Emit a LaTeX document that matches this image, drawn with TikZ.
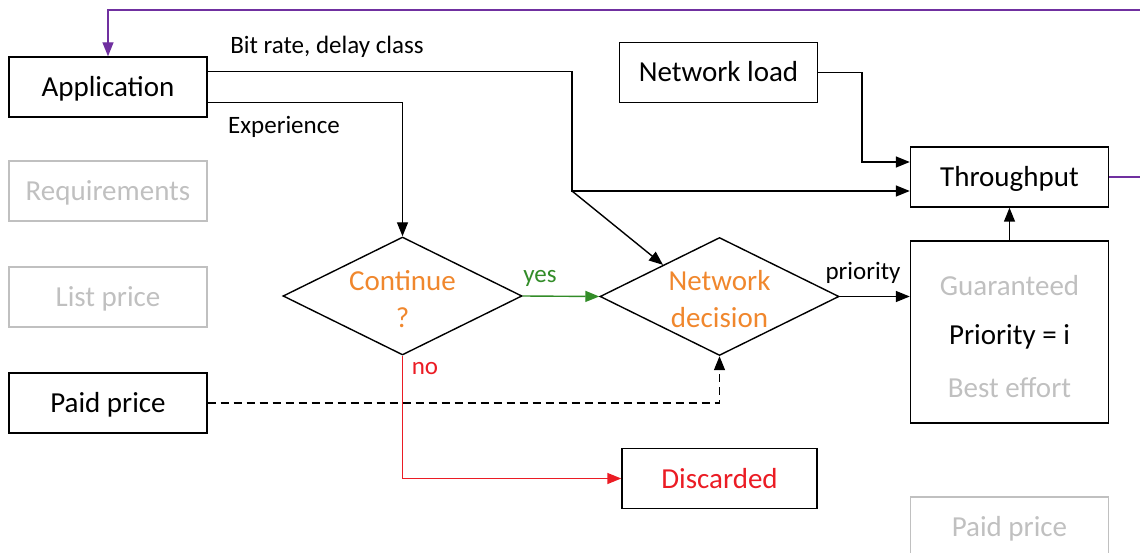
\documentclass[tikz,border=0pt]{standalone}
\usepackage{fontspec}
\setmainfont{Carlito}
\usetikzlibrary{arrows.meta,shapes.geometric,calc}
\definecolor{lgray}{RGB}{192,192,192}
\definecolor{orng}{RGB}{240,135,45}
\definecolor{grn}{RGB}{50,140,40}
\definecolor{rd}{RGB}{235,28,36}
\definecolor{purp}{RGB}{112,48,160}
\begin{document}
\begin{tikzpicture}[x=1pt,y=-1pt,
  box/.style={draw, line width=1.4pt, minimum width=198pt, minimum height=60pt, inner sep=0pt, text height=22pt, text depth=3pt, font=\fontsize{29}{35}\selectfont},
  ghost/.style={box, draw=lgray, text=lgray},
  dia/.style={draw, diamond, line width=1.4pt, inner sep=0pt, minimum width=239pt, minimum height=118pt},
  dtext/.style={text=orng, align=center, inner sep=0pt, font=\fontsize{29}{37}\selectfont},
  ptext/.style={inner sep=0pt, font=\fontsize{29}{35}\selectfont},
  lab/.style={font=\fontsize{25}{30}\selectfont, inner sep=0pt},
  arr/.style={line width=1.4pt, -{Triangle[length=14pt,width=11pt]}},
]
\useasboundingbox (0,0) rectangle (1140,553);
% boxes
\node[box] (app) at (108,87) {Application};
\node[ghost] (req) at (108,191) {Requirements};
\node[ghost] (list) at (108,297) {List price};
\node[box] (paid) at (108,403) {Paid price};
\node[box] (load) at (718.5,72.5) {Network load};
\node[box] (thr) at (1009.5,177) {Throughput};
\node[box, minimum height=182pt] (prio) at (1009.5,332) {};
\node[ptext, text=lgray] (guar) at (1009.5,286) {Guaranteed};
\node[ptext] (prioi) at (1009.5,337) {Priority = i};
\node[ptext, text=lgray] (best) at (1009.5,388) {Best effort};
\node[box, minimum width=195pt, text=rd] (disc) at (719.5,478.5) {Discarded};
\node[ghost] (paid2) at (1009.5,527) {Paid price};
% diamonds
\node[dia] (cont) at (402.5,296) {};
\node[dtext] (conttext) at (402.5,299) {Continue\\?};
\node[dia] (nd) at (719.5,296.5) {};
\node[dtext] (ndtext) at (719.5,299) {Network\\decision};
% labels
\node[lab] (bitlab) at (327,47) {Bit rate, delay class};
\node[lab] (explab) at (284,127) {Experience};
\node[lab, text=grn] (yeslab) at (540,278) {yes};
\node[lab] (priolab) at (863,273) {priority};
\node[lab, text=rd] (nolab) at (425,369) {no};
% helper coordinates
\coordinate (split) at (572,191);
\coordinate (ldj) at (862,162);
\coordinate (loopR) at (1160,177);
\coordinate (loopT) at (1160,10);
% connectors
\draw[arr, purp] (thr.east) -- (loopR) -- (loopT) -| (app.north);
\draw[arr] ($(app.north east)!0.25!(app.south east)$) -| (split) -- (thr.west |- split);
\draw[arr] (split) -- ($(nd.west)!0.53!(nd.north)$);
\draw[arr] ($(app.north east)!0.75!(app.south east)$) -| (cont.north);
\draw[arr] (load.east) -| (ldj) -- (thr.west |- ldj);
\draw[arr, grn] (cont.east) -- (nd.west);
\draw[arr] (nd.east) -- (prio.west |- nd.east);
\draw[arr] (prio.north) -- (thr.south);
\draw[arr, rd] (cont.south) |- (disc.west);
\draw[arr, dash pattern=on 8pt off 5pt] (paid.east) -| (nd.south);
\end{tikzpicture}
\end{document}
